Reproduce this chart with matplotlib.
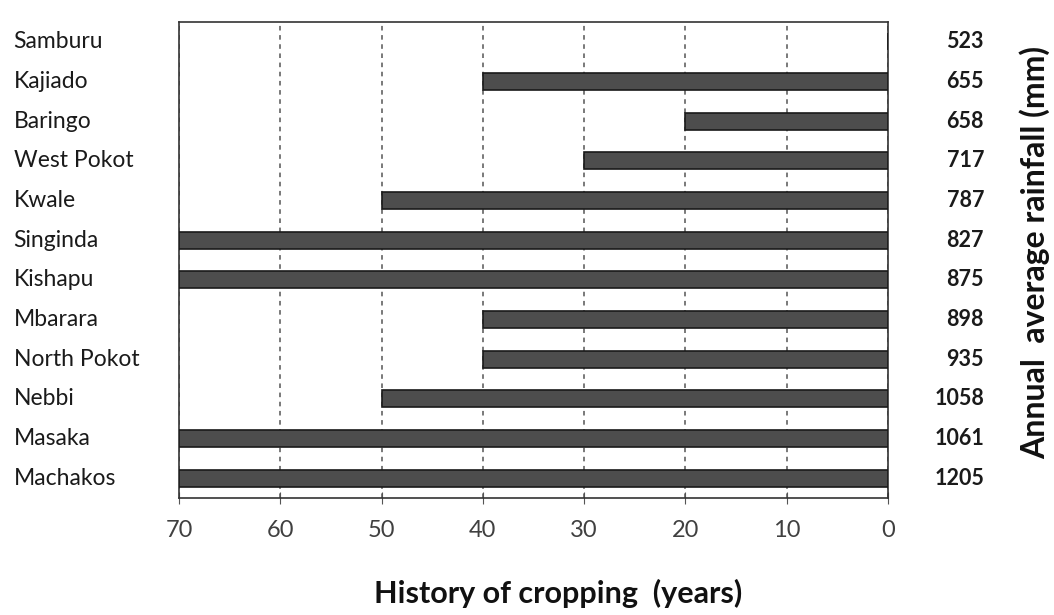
import matplotlib.pyplot as plt
from matplotlib.transforms import blended_transform_factory

plt.rcParams['font.family'] = ['Lato', 'DejaVu Sans']

districts = ['Samburu', 'Kajiado', 'Baringo', 'West Pokot', 'Kwale', 'Singinda',
             'Kishapu', 'Mbarara', 'North Pokot', 'Nebbi', 'Masaka', 'Machakos']
history_years = [0, 40, 20, 30, 50, 70, 70, 40, 40, 50, 70, 70]
rainfall_mm = [523, 655, 658, 717, 787, 827, 875, 898, 935, 1058, 1061, 1205]
xticks = [70, 60, 50, 40, 30, 20, 10, 0]

fig = plt.figure(figsize=(10.54, 6.15), dpi=100)
ax = fig.add_axes([0.1698, 0.1902, 0.6727, 0.774])

ypos = list(range(len(districts)))
ax.barh(ypos, history_years, height=0.43, color='#4d4d4d', edgecolor='#1a1a1a',
        linewidth=1.2, zorder=3)

ax.set_xlim(70, 0)
ax.set_ylim(len(districts) - 0.5, -0.5)
ax.set_xticks(xticks)
ax.set_xticklabels([str(t) for t in xticks], fontsize=17, color='#404040')
ax.tick_params(axis='x', direction='inout', length=8, pad=12, color='#555555')
ax.set_yticks([])
ax.grid(axis='x', linestyle=(0, (3, 3)), color='#555555', linewidth=1.1, zorder=1)
for s in ax.spines.values():
    s.set_color('#333333')
    s.set_linewidth(1.2)

tr = blended_transform_factory(fig.transFigure, ax.transData)
for i, name in enumerate(districts):
    ax.text(0.013, i, name, transform=tr, ha='left', va='center', fontsize=16.5,
            color='#1a1a1a')
    ax.text(0.9336, i, str(rainfall_mm[i]), transform=tr, ha='right', va='center',
            fontsize=15.5, fontweight='bold', color='#1a1a1a')

fig.text(0.982, 0.59, 'Annual  average rainfall (mm)', rotation=90, ha='center',
         va='center', fontsize=23, fontweight='bold', color='#111111')
fig.text(0.53, 0.035, 'History of cropping  (years)', ha='center', va='center',
         fontsize=22, fontweight='bold', color='#111111')

fig.savefig('out.png', dpi=100)
